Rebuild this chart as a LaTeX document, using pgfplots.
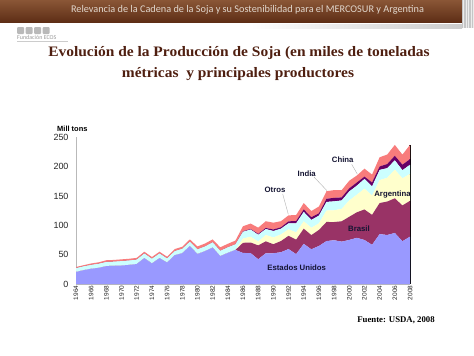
\documentclass[border=0pt]{standalone}
\usepackage{fontspec}
\usepackage{pgfplots}
\usepackage{pgfplotstable}
\pgfplotsset{compat=1.18}
\setmainfont{Liberation Serif}
\newfontfamily\arial{Liberation Sans}
\newfontfamily\calibri{Carlito}
\newfontfamily\titlefont[FakeStretch=1.07]{Liberation Serif}
\definecolor{cusa}{HTML}{9999FF}
\definecolor{cbra}{HTML}{993366}
\definecolor{carg}{HTML}{FFFFCC}
\definecolor{cchi}{HTML}{CCFFFF}
\definecolor{cind}{HTML}{660066}
\definecolor{cotr}{HTML}{F87C7C}
\definecolor{banTop}{HTML}{8A5636}
\definecolor{banBot}{HTML}{5E2E16}
\definecolor{titlebrown}{HTML}{4F1F10}
\definecolor{lbl}{HTML}{141432}
\pgfplotstableread{
year usa bra arg chi ind otr
1964 20.5 0 0 6.5 0 2.0
1965 23.5 0 0 6.5 0 2.0
1966 26.0 0 0 6.5 0 2.5
1967 27.5 0 0 7.0 0 2.5
1968 30.5 0 0 7.0 0 3.0
1969 31.0 0 0 7.0 0 3.0
1970 31.5 0 0 7.5 0 3.0
1971 32.5 0 0 7.5 0 3.0
1972 34.0 0 0 7.5 0 3.0
1973 44.0 0 0 8.0 0 3.0
1974 35.0 0 0 8.0 0 3.0
1975 44.0 0 0 8.0 0 3.0
1976 36.5 0 0 7.0 0 3.0
1977 49.0 0 0 7.0 0 3.5
1978 52.5 0 0 7.5 0 3.5
1979 64.5 0 0 7.5 0 4.0
1980 51.0 0 0 8.0 0 5.0
1981 56.0 0 0 8.0 0 5.0
1982 62.0 0 0 9.0 0 5.0
1983 47.5 0 0 9.0 0 6.0
1984 53.0 0 0 9.5 0 6.0
1985 58.0 0 0 9.5 0 6.5
1986 52.9 17.3 7.2 11.6 0.9 8.5
1987 52.7 18.0 9.9 12.2 0.9 9.3
1988 42.2 23.6 6.5 11.6 1.5 10.6
1989 52.4 20.3 10.75 10.2 1.8 11.5
1990 52.4 15.4 11.5 11.0 2.6 11.6
1991 54.1 19.1 11.3 9.7 2.5 10.3
1992 59.6 22.5 11.0 10.3 3.4 10.2
1993 50.9 24.7 12.4 15.3 4.0 10.2
1994 68.4 25.9 12.5 16.0 4.3 10.8
1995 59.2 24.2 12.4 13.5 4.5 10.5
1996 64.8 27.3 11.2 13.2 3.9 11.6
1997 73.2 32.5 19.5 14.7 5.4 12.8
1998 74.6 31.0 20.0 15.2 6.0 13.2
1999 72.2 34.7 21.2 14.3 5.2 12.4
2000 75.1 39.5 27.8 15.4 5.3 12.9
2001 78.7 43.5 30.0 15.4 5.4 11.9
2002 75.0 52.0 35.5 16.5 4.0 13.5
2003 66.8 51.0 33.0 15.4 6.8 13.5
2004 85.0 53.0 39.0 17.4 5.9 15.7
2005 83.5 57.0 40.5 16.4 7.0 16.2
2006 87.0 59.0 48.8 16.0 7.7 18.5
2007 72.9 61.0 46.2 13.8 9.4 17.2
2008 80.7 61.0 46.0 15.5 9.5 24.3
}\soja
\begin{document}
\begin{tikzpicture}[x=1bp,y=1bp]
\useasboundingbox (0,0) rectangle (474,355);
\fill[white] (0,0) rectangle (474,355);
% banner
\shade[top color=banTop, bottom color=banBot] (0,355) rectangle (474,333);
\shade[left color=white, right color=gray!40] (250,331) rectangle (462,327);
\fill[gray!45] (462,355) rectangle (474,327);
\foreach \xx in {463.5,466,468.5,471,473} {\draw[white!85!gray, line width=0.7bp] (\xx,355) -- (\xx,327);}
\node[text={rgb,255:red,225;green,215;blue,205}, font=\calibri\fontsize{10.3}{12}\selectfont] at (247.5,345) {Relevancia de la Cadena de la Soja y su Sostenibilidad para el MERCOSUR y Argentina};
% logo
\foreach \xx in {17,25.5,34,42.5} {\fill[gray!55, rounded corners=1bp] (\xx,321) rectangle ++(7,7);}
\node[anchor=west, inner sep=0pt, text=gray!80, font=\calibri\fontsize{6}{6}\selectfont] at (17,317.5) {Fundación ECOS};
\draw[gray!40, line width=0.5bp] (17,314) -- (68,314);
% title
\node[text=titlebrown, font=\titlefont\bfseries\fontsize{14.5}{16}\selectfont] at (239,302) {Evolución de la Producción de Soja (en miles de toneladas};
\node[text=titlebrown, font=\titlefont\bfseries\fontsize{14.5}{16}\selectfont] at (238,281) {métricas\ \ y principales productores};
% chart
\begin{axis}[
  at={(76bp,71bp)}, anchor=south west, scale only axis,
  width=334bp, height=146.7bp,
  xmin=1964, xmax=2008, ymin=0, ymax=250,
  stack plots=y,
  xtick={1964,1966,...,2008}, ytick={0,50,...,250},
  /pgf/number format/assume math mode=true,
  /pgf/number format/1000 sep={},
  axis lines*=left,
  axis line style={draw=gray!55, line width=0.6bp},
  major tick length=0pt,
  tick style={draw=none},
  xticklabel style={rotate=90, anchor=east, inner sep=1.5pt, font=\arial\fontsize{6.5}{6.5}\selectfont, text=black!85},
  yticklabel style={font=\arial\fontsize{9}{9}\selectfont, text=black!85, xshift=-4bp},
  clip=false,
]
\addplot[fill=cusa, draw=none] table[x=year,y=usa]{\soja} \closedcycle;
\addplot[fill=cbra, draw=none] table[x=year,y=bra]{\soja} \closedcycle;
\addplot[fill=carg, draw=none] table[x=year,y=arg]{\soja} \closedcycle;
\addplot[fill=cchi, draw=none] table[x=year,y=chi]{\soja} \closedcycle;
\addplot[fill=cind, draw=none] table[x=year,y=ind]{\soja} \closedcycle;
\addplot[fill=cotr, draw=none] table[x=year,y=otr]{\soja} \closedcycle;
\addplot[black, line width=1.5bp, stack plots=false] coordinates {(2008,0) (2008,237)};
\end{axis}
% y unit
\node[anchor=west, inner sep=0pt, font=\arial\bfseries\fontsize{7.5}{8}\selectfont] at (57,226) {Mill tons};
% series labels
\begin{scope}[font=\arial\bfseries\fontsize{7.8}{8}\selectfont, text=lbl]
\node at (296.7,87.3) {Estados Unidos};
\node at (359,126) {Brasil};
\node at (392.5,160) {Argentina};
\node at (275,165.3) {Otros};
\node at (306.7,181.3) {India};
\node at (342.7,195.3) {China};
\end{scope}
\draw[gray!60, line width=0.4bp] (282.7,161) -- (288.3,140.7);
\draw[gray!60, line width=0.4bp] (314,178) -- (327,164.3);
\draw[gray!60, line width=0.4bp] (351.7,190.7) -- (357.3,181);
% footer
\node[font=\bfseries\fontsize{8.8}{10}\selectfont] at (396,34.3) {Fuente: USDA, 2008};
\end{tikzpicture}
\end{document}
